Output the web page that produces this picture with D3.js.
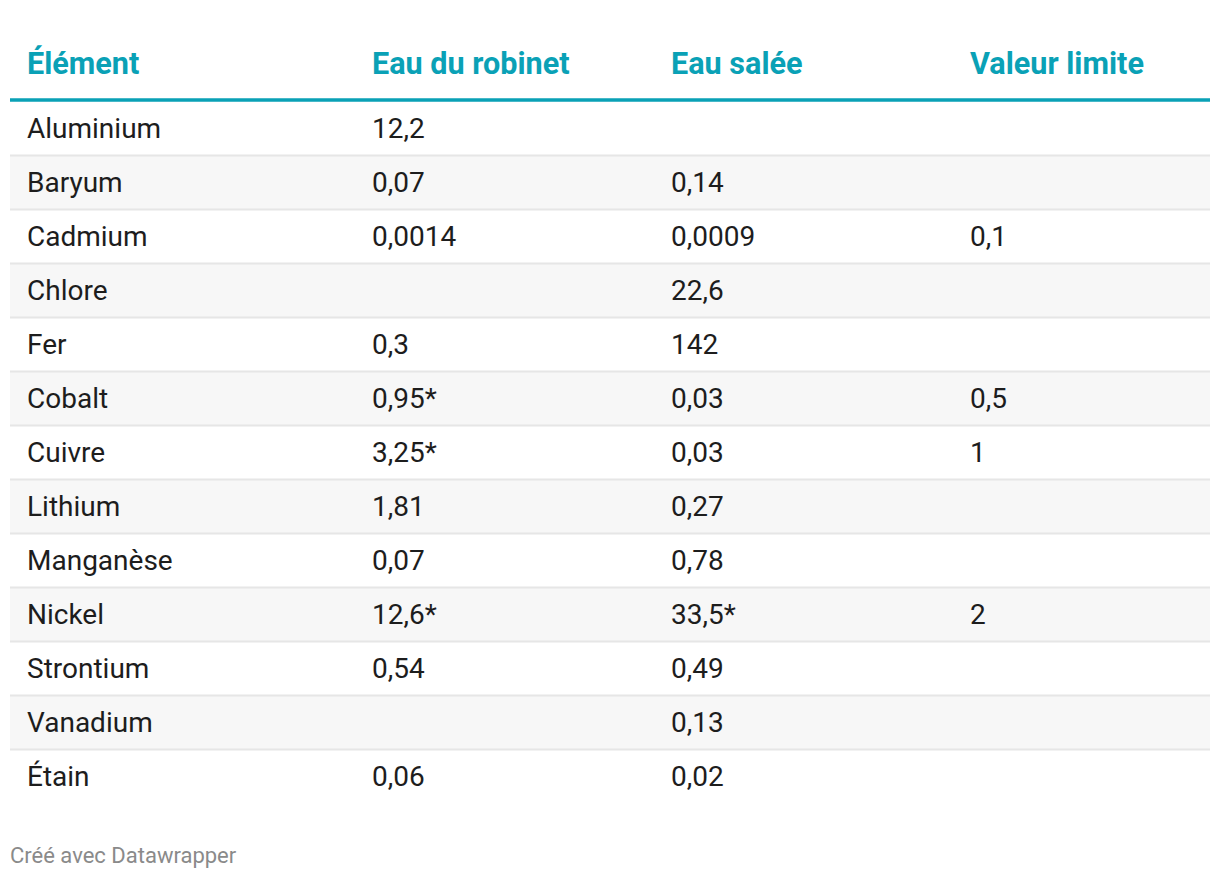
<!DOCTYPE html>
<html><head><meta charset="utf-8">
<script src="https://cdn.jsdelivr.net/npm/d3@7"></script>
<style>body{margin:0;background:#fff;} svg{display:block;font-family:Roboto,sans-serif;}</style>
</head><body>
<script>
const headers = ["Élément", "Eau du robinet", "Eau salée", "Valeur limite"];
const elements = ["Aluminium","Baryum","Cadmium","Chlore","Fer","Cobalt","Cuivre","Lithium","Manganèse","Nickel","Strontium","Vanadium","Étain"];
const tapWater = ["12,2","0,07","0,0014","","0,3","0,95*","3,25*","1,81","0,07","12,6*","0,54","","0,06"];
const saltWater = ["","0,14","0,0009","22,6","142","0,03","0,03","0,27","0,78","33,5*","0,49","0,13","0,02"];
const limitValue = ["","","0,1","","","0,5","1","","","2","","",""];
const footer = "Créé avec Datawrapper";

const W = 1220, H = 878;
const teal = "#0aa1b6";
const svg = d3.select("body").append("svg").attr("width", W).attr("height", H);

const left = 10, right = 1210;
const y = d3.scaleBand().domain(d3.range(elements.length)).range([101.5, 101.5 + 54 * elements.length]).padding(0);
const x = d3.scaleOrdinal().domain(d3.range(headers.length)).range([27, 372, 671, 970]);

const rows = elements.map((e, i) => [e, tapWater[i], saltWater[i], limitValue[i]]);

// stripes
svg.append("g").selectAll("rect").data(rows).join("rect")
  .attr("x", left).attr("width", right - left)
  .attr("y", (d, i) => y(i)).attr("height", y.bandwidth())
  .attr("fill", (d, i) => i % 2 ? "#f7f7f7" : "#ffffff");

// separators
svg.append("g").selectAll("line").data(rows.slice(0, -1)).join("line")
  .attr("x1", left).attr("x2", right)
  .attr("y1", (d, i) => y(i) + y.bandwidth()).attr("y2", (d, i) => y(i) + y.bandwidth())
  .attr("stroke", "#e6e6e6").attr("stroke-width", 2);

// header
svg.append("g").selectAll("text").data(headers).join("text")
  .attr("x", (d, i) => x(i)).attr("y", 74)
  .attr("fill", teal).attr("font-weight", 700).attr("font-size", 30.6)
  .text(d => d);
svg.append("line").attr("x1", left).attr("x2", right).attr("y1", 100).attr("y2", 100)
  .attr("stroke", teal).attr("stroke-width", 3.5);

// cells
const rg = svg.append("g").selectAll("g").data(rows).join("g")
  .attr("transform", (d, i) => `translate(0,${y(i) + y.bandwidth() / 2 + 9.5})`);
rg.selectAll("text").data(d => d).join("text")
  .attr("x", (d, j) => x(j)).attr("y", 0)
  .attr("fill", "#1d1d1d").attr("font-size", 28)
  .text(d => d);

svg.append("text").attr("x", 10).attr("y", 863).attr("fill", "#8a8a8a")
  .attr("font-size", 22).text(footer);
</script>
</body></html>
